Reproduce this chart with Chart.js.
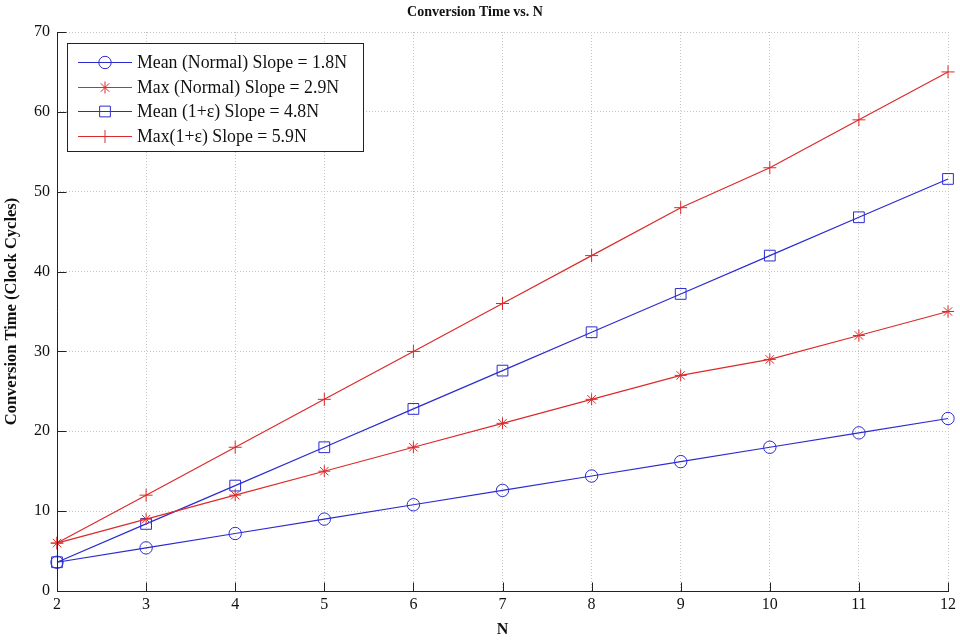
<!DOCTYPE html>
<html>
<head>
<meta charset="utf-8">
<script src="https://cdn.jsdelivr.net/npm/chart.js@4/dist/chart.umd.min.js"></script>
<style>
html,body{margin:0;padding:0;background:#fff;}
#wrap{width:960px;height:641px;position:relative;}
</style>
</head>
<body>
<div id="wrap"><canvas id="c" width="960" height="641"></canvas></div>
<script>
const nValues = [2,3,4,5,6,7,8,9,10,11,12];
const meanNormal = [3.6,5.4,7.2,9.0,10.8,12.6,14.4,16.2,18.0,19.8,21.6];
const maxNormal = [6,9,12,15,18,21,24,27,29,32,35];
const meanEps = [3.6,8.4,13.2,18.0,22.8,27.6,32.4,37.2,42.0,46.8,51.6];
const maxEps = [6,12,18,24,30,36,42,48,53,59,65];
const seriesLabels = ['Mean (Normal) Slope = 1.8N','Max (Normal) Slope = 2.9N','Mean (1+\u03b5) Slope = 4.8N','Max(1+\u03b5) Slope = 5.9N'];
const yTicks = [0,10,20,30,40,50,60,70];
const xTicks = nValues;

const BLUE = '#2b2bd0';
const RED = '#dc2a2a';
const FONT = "'Liberation Serif', 'Times New Roman', serif";

function pts(arr){ return arr.map((v,i)=>({x:nValues[i], y:v})); }

const styles = [
  {color:BLUE, pointStyle:'circle', radius:6.2},
  {color:RED, pointStyle:'star', radius:6},
  {color:BLUE, pointStyle:'rect', radius:7.6},
  {color:RED, pointStyle:'cross', radius:6.5}
];
const seriesData = [meanNormal, maxNormal, meanEps, maxEps];

const datasets = seriesData.map((arr,i)=>({
  label: seriesLabels[i],
  data: pts(arr),
  borderColor: styles[i].color,
  backgroundColor: 'rgba(0,0,0,0)',
  pointBorderColor: styles[i].color,
  pointBackgroundColor: 'rgba(0,0,0,0)',
  pointStyle: styles[i].pointStyle,
  pointRadius: styles[i].radius,
  pointBorderWidth: 1,
  borderWidth: 1.2,
  tension: 0,
  clip: false
}));

function drawMarker(ctx, style, x, y, radius){
  if (Chart.helpers && Chart.helpers.drawPoint){
    Chart.helpers.drawPoint(ctx, {pointStyle: style, radius: radius, rotation: 0, borderWidth: 1}, x, y);
    return;
  }
  ctx.beginPath();
  ctx.arc(x,y,radius,0,Math.PI*2);
  ctx.stroke();
}

const axesPlugin = {
  id: 'axesPlugin',
  afterDraw(chart){
    const {ctx, chartArea, scales} = chart;
    const xs = scales.x, ys = scales.y;
    ctx.save();
    ctx.strokeStyle = '#222';
    ctx.lineWidth = 1;
    ctx.setLineDash([]);
    const L = Math.round(chartArea.left)+0.5;
    const B = Math.round(chartArea.bottom)+0.5;
    ctx.beginPath();
    ctx.moveTo(L, Math.round(chartArea.top));
    ctx.lineTo(L, B);
    ctx.lineTo(Math.round(chartArea.right)+1, B);
    ctx.stroke();
    // inward ticks
    ctx.beginPath();
    xTicks.forEach(v=>{
      const px = Math.round(xs.getPixelForValue(v))+0.5;
      ctx.moveTo(px, B); ctx.lineTo(px, B-9);
    });
    yTicks.forEach(v=>{
      const py = Math.round(ys.getPixelForValue(v))+0.5;
      ctx.moveTo(L, py); ctx.lineTo(L+9, py);
    });
    ctx.stroke();

    // legend
    const bx = 67.5, by = 43.5, bw = 296, bh = 108;
    ctx.fillStyle = '#fff';
    ctx.fillRect(bx, by, bw, bh);
    ctx.strokeStyle = '#222';
    ctx.strokeRect(bx, by, bw, bh);
    ctx.font = "17.8px " + FONT;
    ctx.textBaseline = 'middle';
    ctx.textAlign = 'left';
    chart.data.datasets.forEach((ds,i)=>{
      const cy = Math.round(61.7 + i*24.8)+0.5;
      ctx.strokeStyle = ds.borderColor;
      ctx.lineWidth = 1.2;
      ctx.beginPath();
      ctx.moveTo(78, cy); ctx.lineTo(132, cy);
      ctx.stroke();
      ctx.lineWidth = 1;
      ctx.fillStyle = 'rgba(0,0,0,0)';
      drawMarker(ctx, ds.pointStyle, 105, cy, ds.pointRadius);
      ctx.fillStyle = '#111';
      ctx.fillText(ds.label, 137, cy+1);
    });
    ctx.restore();
  }
};

new Chart(document.getElementById('c'), {
  type: 'line',
  data: { datasets },
  options: {
    responsive: false,
    animation: false,
    devicePixelRatio: 1,
    layout: { padding: { left: 0, right: 10, top: 0, bottom: 0 } },
    plugins: {
      legend: { display: false },
      tooltip: { enabled: false },
      title: {
        display: true,
        text: 'Conversion Time vs. N',
        color: '#111',
        font: { family: FONT, size: 14, weight: 'bold' },
        padding: { top: 4, bottom: 11.2 }
      }
    },
    scales: {
      x: {
        type: 'linear',
        min: 2, max: 12,
        afterFit(s){ s.height = 50; },
        afterBuildTicks(s){ s.ticks = xTicks.map(v=>({value:v})); },
        ticks: { color: '#111', font: { family: FONT, size: 16 }, padding: 4, maxRotation: 0, autoSkip: false },
        grid: { color: '#c4c4c4', lineWidth: 1, drawTicks: false },
        border: { display: false, dash: [1,2] },
        title: { display: true, text: 'N', color: '#111', font: { family: FONT, size: 16, weight: 'bold' }, padding: { top: 0, bottom: 2 } }
      },
      y: {
        type: 'linear',
        min: 0, max: 70,
        afterFit(s){ s.width = 57; },
        afterBuildTicks(s){ s.ticks = yTicks.map(v=>({value:v})); },
        ticks: { color: '#111', font: { family: FONT, size: 16 }, padding: 7 },
        grid: { color: '#c4c4c4', lineWidth: 1, drawTicks: false },
        border: { display: false, dash: [1,2] },
        title: { display: true, text: 'Conversion Time (Clock Cycles)', color: '#111', font: { family: FONT, size: 16.5, weight: 'bold' }, padding: { top: 2, bottom: 0 } }
      }
    }
  },
  plugins: [axesPlugin]
});
</script>
</body>
</html>
